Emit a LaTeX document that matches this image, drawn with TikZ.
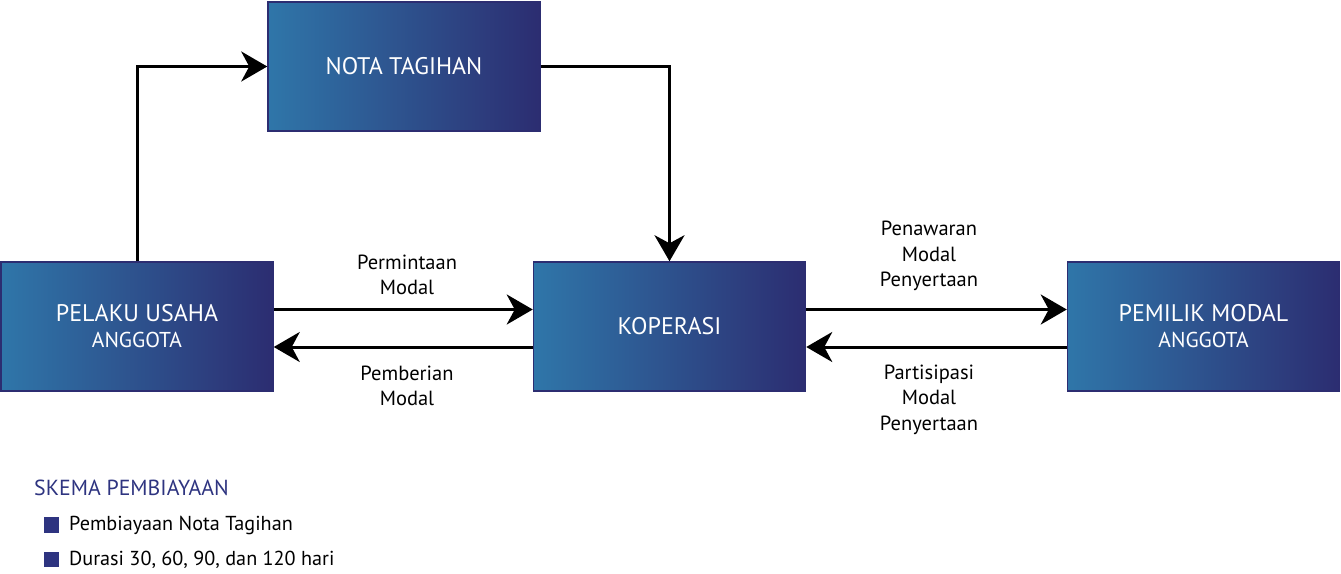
\documentclass[tikz,border=0pt]{standalone}
\usepackage{fontspec}
\setmainfont{PT Sans}
\usetikzlibrary{arrows.meta,calc}
\definecolor{boxL}{HTML}{2F76A9}
\definecolor{boxR}{HTML}{2C2D71}
\definecolor{navy}{HTML}{2E3480}
\tikzset{
  flowbox/.style={draw=boxR, line width=1.5pt, shading=axis, left color=boxL, right color=boxR,
    minimum width=272pt, minimum height=129pt, inner sep=0pt, text=white, align=center,
    font=\fontsize{24}{27}\selectfont},
  conn/.style={line width=3pt, -{Stealth[length=26pt,width=30pt,inset=8pt]}},
  lbl/.style={align=center, font=\fontsize{20.5}{25.5}\selectfont, text=black},
  legsq/.style={fill=navy, draw=none, minimum size=15.5pt, inner sep=0pt},
  legtx/.style={anchor=west, font=\fontsize{20.2}{24}\selectfont, text=black, inner sep=0pt}
}
\begin{document}
\begin{tikzpicture}[x=1pt,y=-1pt]
\useasboundingbox (0,0) rectangle (1341,573);
\node[flowbox] (pel) at (137,326.5) {PELAKU USAHA\\[-1pt]{\fontsize{21.5}{23}\selectfont ANGGOTA}};
\node[flowbox] (nota) at (404,66.5) {NOTA TAGIHAN};
\node[flowbox] (kop) at (669.5,326.5) {\raisebox{-2pt}{KOPERASI}};
\node[flowbox] (pem) at (1203.5,326.5) {PEMILIK MODAL\\[-1pt]{\fontsize{21.5}{23}\selectfont ANGGOTA}};
% connectors
\draw[conn] (pel.north) |- (nota.west);
\draw[conn] (nota.east) -| (kop.north);
\draw[conn] ($(pel.east)+(0,-17)$) -- ($(kop.west)+(0,-17)$);
\draw[conn] ($(kop.west)+(0,20.5)$) -- ($(pel.east)+(0,20.5)$);
\draw[conn] ($(kop.east)+(0,-17)$) -- ($(pem.west)+(0,-17)$);
\draw[conn] ($(pem.west)+(0,20.5)$) -- ($(kop.east)+(0,20.5)$);
% labels
\node[lbl] (l1) at (407,275) {Permintaan\\Modal};
\node[lbl] (l2) at (407,386) {Pemberian\\Modal};
\node[lbl] (l3) at (929,256) {Penawaran\\Modal\\Penyertaan};
\node[lbl] (l4) at (929,399.5) {Partisipasi\\Modal\\Penyertaan};
% legend
\node[anchor=west, inner sep=0pt, text=navy, font=\fontsize{21.8}{25}\selectfont] (lt) at (34,488) {SKEMA PEMBIAYAAN};
\node[legsq] (s1) at (51.5,525) {};
\node[legtx] (t1) at (69,525.5) {Pembiayaan Nota Tagihan};
\node[legsq] (s2) at (51.5,559.5) {};
\node[legtx] (t2) at (69,560) {Durasi 30, 60, 90, dan 120 hari};
\end{tikzpicture}
\end{document}
